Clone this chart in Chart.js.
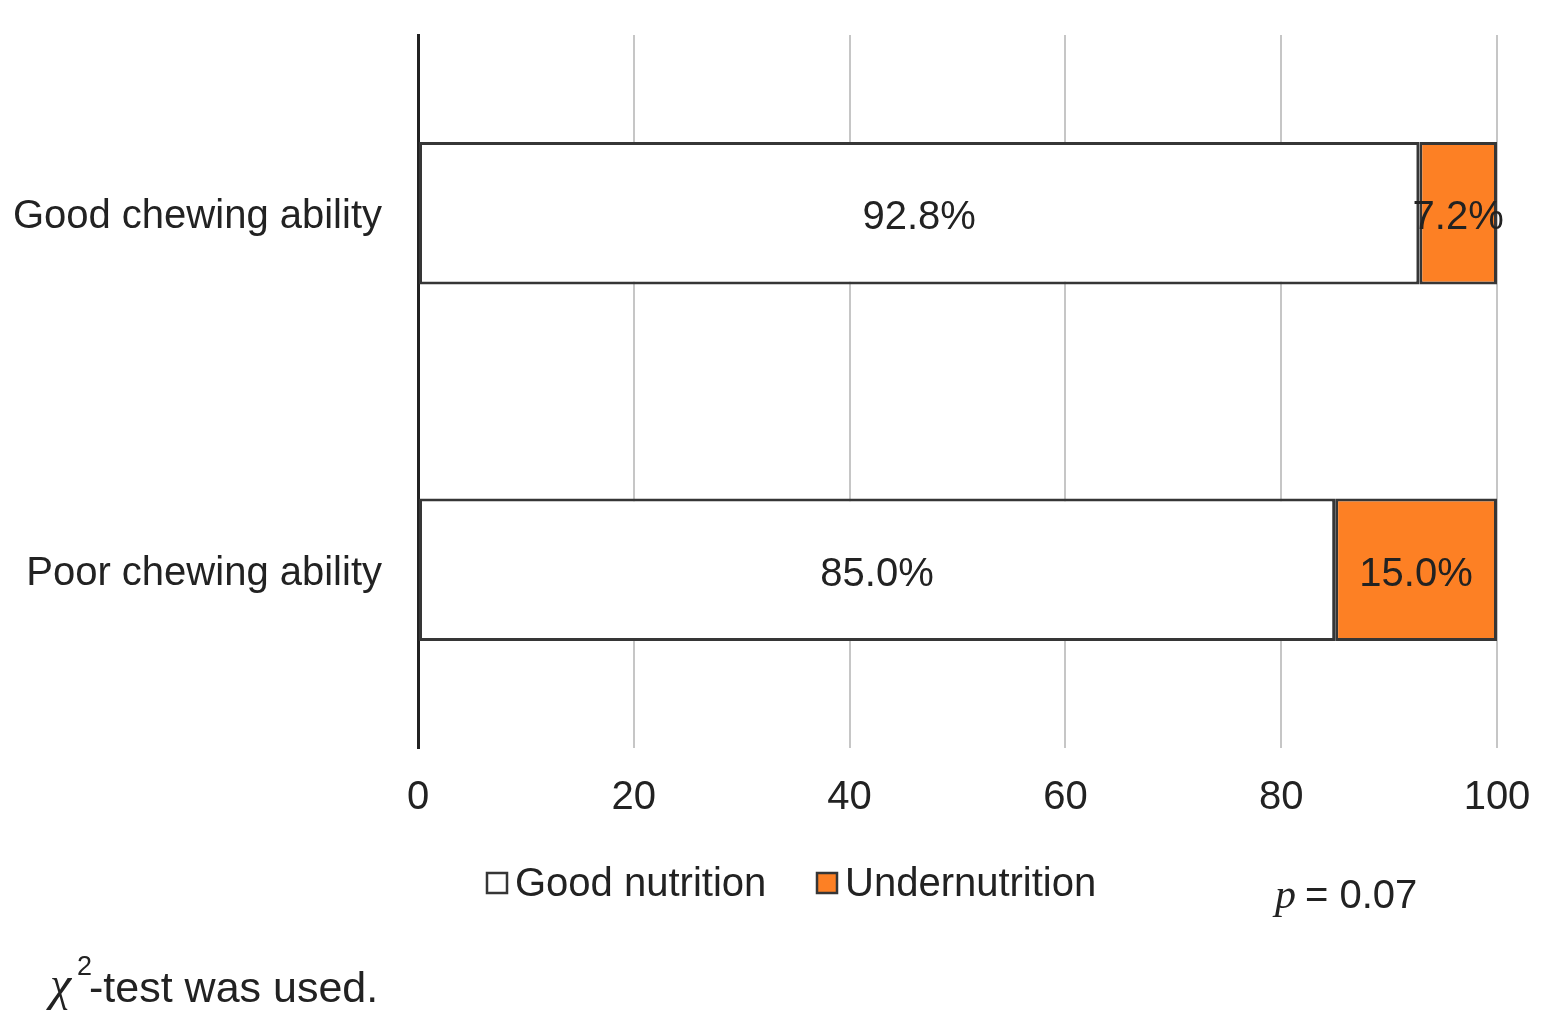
<!DOCTYPE html>
<html>
<head>
<meta charset="utf-8">
<script src="https://cdn.jsdelivr.net/npm/chart.js@4"></script>
<style>
  html, body { margin: 0; padding: 0; background: #fff; }
  #wrap { width: 1549px; height: 1029px; }
</style>
</head>
<body>
<div id="wrap"><canvas id="chart"></canvas></div>
<script>
const categories = ["Good chewing ability", "Poor chewing ability"];
const seriesNames = ["Good nutrition", "Undernutrition"];
const goodNutrition = [92.8, 85.0];
const undernutrition = [7.2, 15.0];
const xTicks = [0, 20, 40, 60, 80, 100];
const pValueText = "0.07";
const footnote = "-test was used.";

const FONT = "'Liberation Sans', Arial, sans-serif";
const barColors = ["#ffffff", "#fd8024"];
const edge = "#363636";

// draws the percent labels in the middle of each segment
const segmentLabels = {
  id: "segmentLabels",
  afterDatasetsDraw(chart) {
    const ctx = chart.ctx;
    ctx.save();
    ctx.font = "40px " + FONT;
    ctx.fillStyle = "#222";
    ctx.textAlign = "center";
    ctx.textBaseline = "middle";
    chart.data.datasets.forEach((ds, i) => {
      chart.getDatasetMeta(i).data.forEach((bar, j) => {
        const p = bar.getProps(["x", "y", "base"], true);
        ctx.fillText(ds.data[j].toFixed(1) + "%", (p.x + p.base) / 2, p.y + 5);
      });
    });
    ctx.restore();
  }
};

// legend, p value and note under the chart
const extras = {
  id: "extras",
  afterDraw(chart) {
    const ctx = chart.ctx;
    ctx.save();
    ctx.textBaseline = "alphabetic";
    ctx.font = "40px " + FONT;
    let x = 487;
    seriesNames.forEach((name, i) => {
      ctx.fillStyle = barColors[i];
      ctx.fillRect(x, 873, 20, 20);
      ctx.strokeStyle = edge;
      ctx.lineWidth = 2.5;
      ctx.strokeRect(x, 873, 20, 20);
      ctx.fillStyle = "#222";
      ctx.textAlign = "left";
      ctx.fillText(name, x + 28, 896);
      x = 817;
    });

    ctx.font = "italic 42px 'Liberation Serif', 'Times New Roman', serif";
    ctx.fillText("p", 1275, 908);
    ctx.font = "40px " + FONT;
    ctx.fillText("= " + pValueText, 1305, 908);

    ctx.font = "italic 48px 'Liberation Serif', serif";
    ctx.fillText("\u03C7", 50, 1000);
    ctx.font = "27px " + FONT;
    ctx.fillText("2", 77, 975);
    ctx.font = "43px " + FONT;
    ctx.fillText(footnote, 89, 1002);
    ctx.restore();
  }
};

new Chart(document.getElementById("chart"), {
  type: "bar",
  data: {
    labels: categories,
    datasets: [
      { label: seriesNames[0], data: goodNutrition, backgroundColor: barColors[0] },
      { label: seriesNames[1], data: undernutrition, backgroundColor: barColors[1] }
    ].map(d => Object.assign(d, {
      borderColor: edge,
      borderWidth: 3,
      borderSkipped: false,
      categoryPercentage: 1.0,
      barPercentage: 0.4
    }))
  },
  plugins: [segmentLabels, extras],
  options: {
    indexAxis: "y",
    responsive: true,
    maintainAspectRatio: false,
    animation: false,
    layout: { padding: { top: 35, right: 52, left: 0, bottom: 0 } },
    plugins: { legend: { display: false }, tooltip: { enabled: false } },
    scales: {
      x: {
        stacked: true,
        min: 0,
        max: 100,
        afterBuildTicks: s => { s.ticks = xTicks.map(v => ({ value: v })); },
        afterFit: s => { s.height = 281; s.paddingLeft = 0; s.paddingRight = 0; },
        grid: { color: "#c6c6c6", lineWidth: 2, drawTicks: false },
        border: { display: false },
        ticks: { padding: 26, color: "#222", font: { family: FONT, size: 40 } }
      },
      y: {
        stacked: true,
        afterFit: s => { s.width = 418; s.paddingTop = 0; s.paddingBottom = 0; },
        grid: { display: false, drawTicks: false },
        border: { display: true, color: "#222", width: 3 },
        ticks: { padding: 36, labelOffset: 4, color: "#222", font: { family: FONT, size: 40 } }
      }
    }
  }
});
</script>
</body>
</html>
